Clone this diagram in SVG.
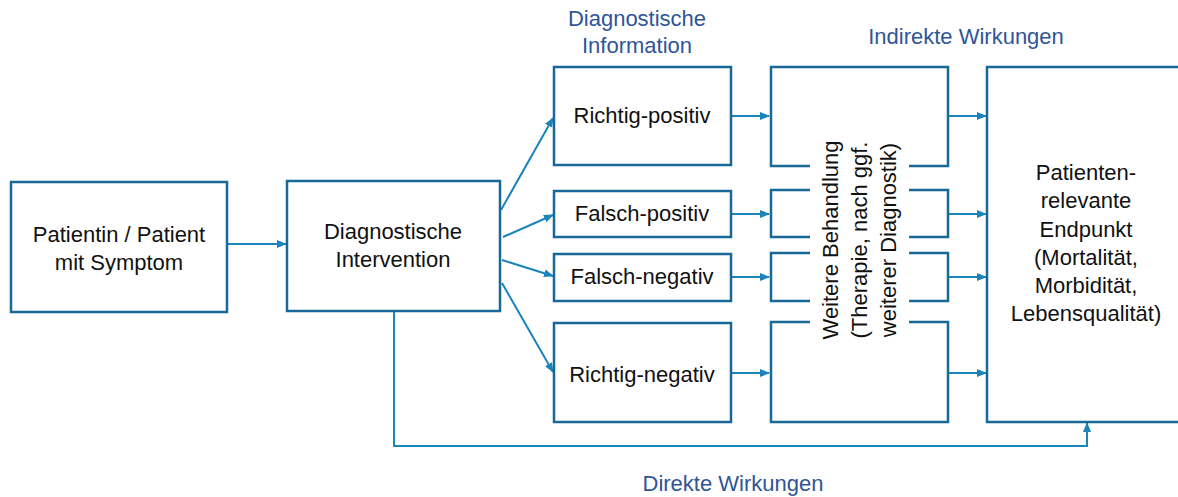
<svg xmlns="http://www.w3.org/2000/svg" width="1178" height="497" viewBox="0 0 1178 497">
<defs>
<marker id="ah" markerUnits="userSpaceOnUse" markerWidth="10" markerHeight="10" viewBox="0 0 10 10" refX="9" refY="5" orient="auto">
<path d="M0,1 L10,5 L0,9 Z" fill="#1a84bb"/>
</marker>
<style>
.box{fill:#fff;stroke:#196998;stroke-width:2.5}
.br{fill:none;stroke:#196998;stroke-width:2.5}
.t{font-family:"Liberation Sans",Arial,sans-serif;font-size:22px;fill:#111;text-anchor:middle}
.lb{font-family:"Liberation Sans",Arial,sans-serif;font-size:22px;fill:#2f5597;text-anchor:middle}
.c{fill:none;stroke:#1a84bb;stroke-width:2;marker-end:url(#ah)}
</style>
</defs>
<rect width="1178" height="497" fill="#fff"/>

<g id="labels">
<text class="lb" x="637" y="26">Diagnostische</text>
<text class="lb" x="637" y="53">Information</text>
<text class="lb" x="966" y="44">Indirekte Wirkungen</text>
<text class="lb" x="733" y="491">Direkte Wirkungen</text>
</g>

<g id="connectors">
<path class="c" d="M227,244 H286"/>
<path class="c" d="M501,210 L553,118"/>
<path class="c" d="M503,237 L553,215"/>
<path class="c" d="M502,260 L553,276"/>
<path class="c" d="M502,283 L553,372"/>
<path class="c" d="M731,116 H769"/>
<path class="c" d="M731,214 H769"/>
<path class="c" d="M731,277 H769"/>
<path class="c" d="M731,373 H769"/>
<path class="c" d="M948,116 H986"/>
<path class="c" d="M948,214 H986"/>
<path class="c" d="M948,277 H986"/>
<path class="c" d="M948,373 H986"/>
<path class="c" d="M394,312 V446 H1087 V423"/>
</g>

<g id="patient">
<rect class="box" x="11" y="182" width="216" height="130"/>
<text class="t" x="119" y="242">Patientin / Patient</text>
<text class="t" x="119" y="270">mit Symptom</text>
</g>

<g id="intervention">
<rect class="box" x="287" y="181" width="213" height="130"/>
<text class="t" x="393" y="239">Diagnostische</text>
<text class="t" x="393" y="267">Intervention</text>
</g>

<g id="richtig-positiv">
<rect class="box" x="554" y="67" width="177" height="98"/>
<text class="t" x="642" y="123">Richtig-positiv</text>
</g>
<g id="falsch-positiv">
<rect class="box" x="554" y="191" width="177" height="46"/>
<text class="t" x="642" y="221">Falsch-positiv</text>
</g>
<g id="falsch-negativ">
<rect class="box" x="554" y="254" width="177" height="47"/>
<text class="t" x="642" y="284">Falsch-negativ</text>
</g>
<g id="richtig-negativ">
<rect class="box" x="554" y="323" width="177" height="99"/>
<text class="t" x="642" y="382">Richtig-negativ</text>
</g>

<g id="weitere-behandlung">
<path class="br" d="M810,166 H771 V67 H948 V166 H909"/>
<path class="br" d="M810,190 H771 V237 H810 M909,190 H948 V237 H909"/>
<path class="br" d="M810,253 H771 V301 H810 M909,253 H948 V301 H909"/>
<path class="br" d="M810,322 H771 V422 H948 V322 H909"/>
<g transform="translate(838,240) rotate(-90)">
<text class="t" x="0" y="0">Weitere Behandlung</text>
<text class="t" x="0" y="29">(Therapie, nach ggf.</text>
<text class="t" x="0" y="58">weiterer Diagnostik)</text>
</g>
</g>

<g id="endpunkt">
<rect class="box" x="987" y="67" width="260" height="355"/>
<text class="t" x="1086" y="180">Patienten-</text>
<text class="t" x="1086" y="208">relevante</text>
<text class="t" x="1086" y="237">Endpunkt</text>
<text class="t" x="1086" y="265">(Mortalität,</text>
<text class="t" x="1086" y="293">Morbidität,</text>
<text class="t" x="1086" y="321">Lebensqualität)</text>
</g>
</svg>
